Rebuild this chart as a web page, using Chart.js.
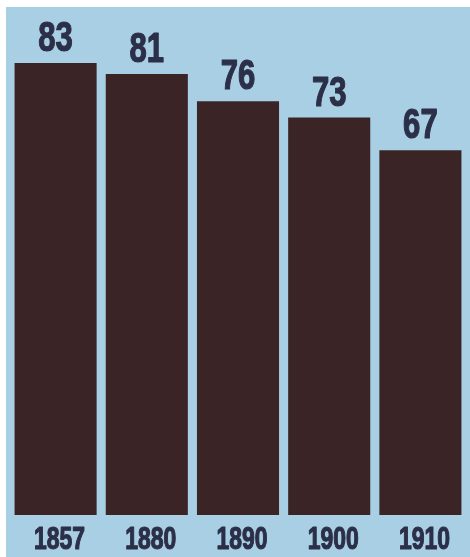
<!DOCTYPE html>
<html>
<head>
<meta charset="utf-8">
<script src="https://cdn.jsdelivr.net/npm/chart.js@4"></script>
<style>
  html, body { margin: 0; padding: 0; background: #fff; overflow: hidden; }
  #wrap { width: 470px; height: 557px; position: relative; }
</style>
</head>
<body>
<div id="wrap"><canvas id="barChart"></canvas></div>
<script>
var years = ['1857', '1880', '1890', '1900', '1910'];
var values = [83, 81, 76, 73, 67];

var barColor = '#3b2426';
var textColor = '#2c2f48';
var panelColor = '#a9cfe4';
var fontFamily = '"Liberation Sans", Arial, sans-serif';

// light blue panel behind the chart (white edge on top and left)
var panelBg = {
    id: 'panelBg',
    beforeDraw: function(chart) {
        var c = chart.ctx;
        c.save();
        c.fillStyle = panelColor;
        c.fillRect(6, 7, chart.width - 6, chart.height - 7);
        c.restore();
    }
};

// condensed heavy text, the original uses a narrow grotesque
function narrowText(c, txt, x, y, squeeze) {
    c.save();
    c.translate(x, y);
    c.scale(squeeze, 1);
    c.fillText(txt, 0, 0);
    c.strokeText(txt, 0, 0);
    c.restore();
}

// numbers above each bar and the years under the axis
var barText = {
    id: 'barText',
    afterDatasetsDraw: function(chart) {
        var c = chart.ctx;
        var meta = chart.getDatasetMeta(0);
        var xs = chart.scales.x;
        c.save();
        c.fillStyle = textColor;
        c.strokeStyle = textColor;
        c.lineWidth = 1.2;
        c.lineJoin = 'round';
        c.textAlign = 'center';
        c.textBaseline = 'alphabetic';
        c.font = 'bold 42px ' + fontFamily;
        meta.data.forEach(function(bar, i) {
            narrowText(c, String(values[i]), bar.x, bar.y - 12, 0.74);
        });
        c.font = 'bold 31px ' + fontFamily;
        chart.data.labels.forEach(function(lbl, i) {
            narrowText(c, lbl, xs.getPixelForValue(i) + 4, xs.bottom - 8, 0.74);
        });
        c.restore();
    }
};

var ctx = document.getElementById('barChart').getContext('2d');
var myChart = new Chart(ctx, {
    type: 'bar',
    data: {
        labels: years,
        datasets: [{
            data: values,
            backgroundColor: barColor,
            borderWidth: 0,
            barPercentage: 0.9,
            categoryPercentage: 1.0
        }]
    },
    options: {
        responsive: true,
        maintainAspectRatio: false,
        animation: false,
        layout: {
            padding: { top: 7, left: 10, right: 4, bottom: 0 }
        },
        plugins: {
            legend: { display: false },
            tooltip: { enabled: false }
        },
        scales: {
            y: {
                display: false,
                min: 0,
                max: 93.3
            },
            x: {
                grid: { display: false, drawTicks: false, tickLength: 0 },
                border: { display: false },
                ticks: { display: false },
                afterFit: function(scale) { scale.height = 42; }
            }
        }
    },
    plugins: [panelBg, barText]
});
</script>
</body>
</html>
